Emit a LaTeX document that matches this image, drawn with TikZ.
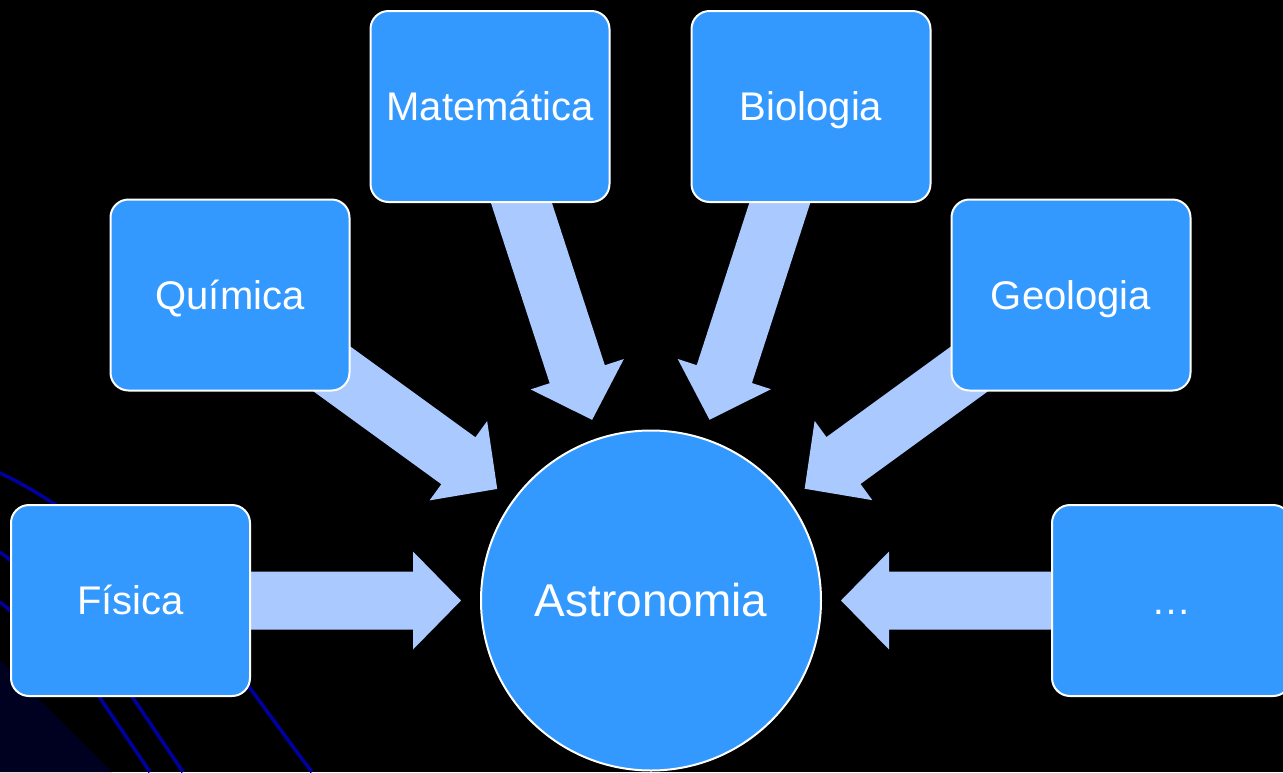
\documentclass[tikz,border=0pt]{standalone}
\usepackage{fontspec}
\setmainfont{Liberation Sans}
\usetikzlibrary{calc}
\definecolor{boxblue}{RGB}{51,153,255}
\definecolor{arrowblue}{RGB}{170,202,255}
\definecolor{swoosh}{RGB}{0,0,160}
\definecolor{navy}{RGB}{0,0,32}
\pgfdeclarelayer{bg}
\pgfsetlayers{bg,main}
\begin{document}
\begin{tikzpicture}[x=1pt,y=-1pt,
  box/.style={draw=white, line width=2pt, fill=boxblue, rounded corners=18pt,
    minimum width=239pt, minimum height=191pt, inner sep=0pt, text=white,
    font=\fontsize{40}{48}\selectfont, text height=28pt, text depth=0pt},
  hub/.style={circle, draw=white, line width=2pt, fill=boxblue, minimum size=340pt,
    inner sep=0pt, text=white, font=\fontsize{46}{55}\selectfont, text height=32pt, text depth=0pt},
  flow/.style={fill=arrowblue},
  swooshline/.style={draw=swoosh, line width=3.5pt}]
\useasboundingbox (0,0) rectangle (1283,772);

\node[box] (fis) at (130.5,600.5) {Física};
\node[box] (qui) at (230,295) {Química};
\node[box] (mat) at (490,106.5) {Matemática};
\node[box] (bio) at (811,106.5) {Biologia};
\node[box] (geo) at (1071,295) {Geologia};
\node[box] (etc) at (1171.5,600.5) {…};
\node[hub] (ast) at (651,600.5) {Astronomia};

\begin{pgfonlayer}{bg}
  \fill[black] (0,0) rectangle (1283,772);
  \fill[navy] (0,660) -- (112,772) -- (0,772) -- cycle;
  \path[swooshline] (0,473) .. controls (90,515) and (200,620) .. (255,695)
     .. controls (275,722) and (295,750) .. (312,772);
  \path[swooshline] (0,552) .. controls (50,590) and (105,655) .. (133,698) -- (183,772);
  \path[swooshline] (0,602) .. controls (40,635) and (80,670) .. (100,698) -- (150,772);
  \foreach \s in {fis,qui,mat,bio,geo,etc}{
    \coordinate (tip) at ($(ast.center)!190pt!(\s.center)$);
    \coordinate (base) at ($(tip)!48pt!(\s.center)$);
    \fill[flow] ($(\s.center)!29pt!90:(tip)$) -- ($(base)!29pt!90:(tip)$)
      -- ($(base)!49pt!90:(tip)$) -- (tip) -- ($(base)!49pt!-90:(tip)$)
      -- ($(base)!29pt!-90:(tip)$) -- ($(\s.center)!29pt!-90:(tip)$) -- cycle;
  }
\end{pgfonlayer}
\end{tikzpicture}
\end{document}
